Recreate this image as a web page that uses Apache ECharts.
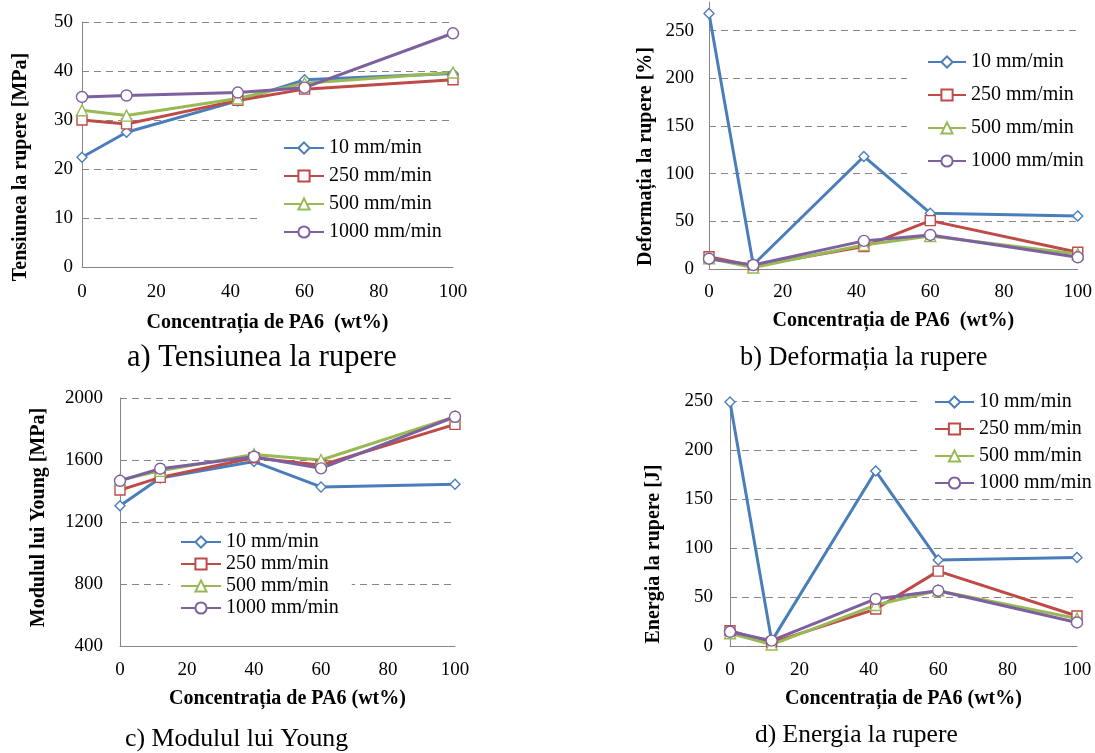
<!DOCTYPE html>
<html>
<head>
<meta charset="utf-8">
<script src="https://cdn.jsdelivr.net/npm/echarts@6/dist/echarts.min.js"></script>
<style>
  html, body { margin: 0; padding: 0; background: #fff; }
  #chart { width: 1095px; height: 753px; }
</style>
</head>
<body>
<div id="chart"></div>
<script>
// viteze de incercare (legenda)
const speeds = ['10 mm/min', '250 mm/min', '500 mm/min', '1000 mm/min'];

// concentratia de PA6 (wt%) pe fiecare grafic
const xA = [0, 12, 42, 60, 100];
const xB = [0, 12, 42, 60, 100];
const xC = [0, 12, 40, 60, 100];
const xD = [0, 12, 42, 60, 100];

// a) Tensiunea la rupere [MPa] - cate un rand pe viteza
const tensiune = [
  [22.4, 27.5, 33.9, 38.2, 39.5],
  [30.0, 29.2, 34.0, 36.3, 38.2],
  [32.0, 30.9, 34.4, 37.5, 39.7],
  [34.7, 35.0, 35.6, 36.6, 47.7]
];
// b) Deformatia la rupere [%]
const deformatie = [
  [268, 4.5, 118, 58.5, 55.7],
  [12.9, 3.2, 23.5, 50.7, 17.5],
  [11.2, 1.5, 25.2, 34.5, 15.7],
  [10.8, 4.2, 29.5, 35.7, 12.3]
];
// c) Modulul lui Young [MPa]
const modul = [
  [1305, 1484, 1590, 1426, 1443],
  [1406, 1488, 1615, 1566, 1830],
  [1471, 1530, 1636, 1600, 1880],
  [1466, 1544, 1621, 1546, 1879]
];
// d) Energia la rupere [J]
const energie = [
  [249, 5, 178.5, 87.7, 90.4],
  [15.6, 3.5, 37.7, 76.4, 30.6],
  [13, 1.5, 41.8, 56.5, 28],
  [14.5, 5.5, 48, 56.4, 24]
];

const colors = ['#4A7EBB', '#BE4B48', '#98B954', '#7D60A0'];
const symbols = ['diamond', 'rect', 'triangle', 'circle'];
const symbolSizes = [10, 10, 11, 11];

const serif = 'Liberation Serif, Times New Roman, serif';
const gridColor = '#868686';

const panels = [
  { x: xA, y: tensiune, grid: { left: 82, top: 22, width: 371, height: 245 },
    yMin: 0, yMax: 50, yInt: 10, yName: 'Tensiunea la rupere [MPa]', yGap: 51, yPad: [0, 45, 0, 0],
    xName: 'Concentrația de PA6  (wt%)', xGap: 46, xMargin: 16, yMargin: 9,
    legend: { left: 262, top: 128, itemWidth: 40, itemGap: 8, padding: [10, 15, 10, 21] } },
  { x: xB, y: deformatie, grid: { left: 709, top: 2, width: 371, height: 267 },
    yMin: 0, yMax: 280, yInt: 50, yName: 'Deformația la rupere [%]', yGap: 53, yPad: [0, 42, 0, 0],
    xName: 'Concentrația de PA6  (wt%)', xGap: 42, xMargin: 14, yMargin: 15,
    legend: { left: 907, top: 42, itemWidth: 38, itemGap: 13, padding: [10, 21, 10, 20] } },
  { x: xC, y: modul, grid: { left: 120, top: 398, width: 335, height: 248 },
    yMin: 400, yMax: 2000, yInt: 400, yName: 'Modulul lui Young [MPa]', yGap: 71, yPad: [0, 0, 0, 9],
    xName: 'Concentrația de PA6 (wt%)', xGap: 43, xMargin: 15, yMargin: 17,
    legend: { left: 170, top: 526, itemWidth: 40, itemGap: 2, padding: [6, 13, 6, 10] } },
  { x: xD, y: energie, grid: { left: 730, top: 401, width: 347, height: 245 },
    yMin: 0, yMax: 250, yInt: 50, yName: 'Energia la rupere [J]', yGap: 66, yPad: [0, 61, 0, 0],
    xName: 'Concentrația de PA6 (wt%)', xGap: 43, xMargin: 15, yMargin: 17,
    legend: { left: 922, top: 386, itemWidth: 39, itemGap: 7, padding: [6, 30, 4, 12] } }
];

const captions = [
  { text: 'a) Tensiunea la rupere', left: 127, top: 342, size: 30.5 },
  { text: 'b) Deformația la rupere', left: 740, top: 345, size: 26.3 },
  { text: 'c) Modulul lui Young', left: 125, top: 726, size: 25.8 },
  { text: 'd) Energia la rupere', left: 755, top: 722, size: 25.5 }
];

const option = {
  animation: false,
  backgroundColor: '#fff',
  title: captions.map(c => ({
    text: c.text, left: c.left, top: c.top, padding: 0,
    textStyle: { fontFamily: serif, fontWeight: 'normal', fontSize: c.size, color: '#000' }
  })),
  grid: panels.map(p => p.grid),
  legend: panels.map(p => Object.assign({
    orient: 'vertical',
    data: speeds,
    itemHeight: 14,
    backgroundColor: '#fff',
    textStyle: { fontFamily: serif, fontSize: 20, color: '#000' },
    selectedMode: false
  }, p.legend)),
  xAxis: panels.map((p, i) => ({
    type: 'value', gridIndex: i, min: 0, max: 100, interval: 20,
    name: p.xName, nameLocation: 'middle', nameGap: p.xGap,
    nameTextStyle: { fontFamily: serif, fontWeight: 'bold', fontSize: 20, color: '#000' },
    axisLine: { show: true, lineStyle: { color: gridColor, width: 1 } },
    axisTick: { show: false },
    axisLabel: { fontFamily: serif, fontSize: 19, color: '#000', margin: p.xMargin },
    splitLine: { show: false }
  })),
  yAxis: panels.map((p, i) => ({
    type: 'value', gridIndex: i, min: p.yMin, max: p.yMax, interval: p.yInt,
    name: p.yName, nameLocation: 'middle', nameGap: p.yGap,
    nameTextStyle: { fontFamily: serif, fontWeight: 'bold', fontSize: 20, color: '#000', padding: p.yPad },
    axisLine: { show: true, lineStyle: { color: gridColor, width: 1 } },
    axisTick: { show: false },
    axisLabel: { fontFamily: serif, fontSize: 19, color: '#000', margin: p.yMargin,
      formatter: v => String(v),
      showMaxLabel: p.yMax % p.yInt === 0 },
    splitLine: { show: true, showMinLine: false, showMaxLine: p.yMax % p.yInt === 0,
      lineStyle: { color: gridColor, type: [7, 5], width: 1 } }
  })),
  series: []
};

panels.forEach((p, gi) => {
  speeds.forEach((name, si) => {
    option.series.push({
      name: name,
      type: 'line',
      xAxisIndex: gi,
      yAxisIndex: gi,
      data: p.x.map((xv, k) => [xv, p.y[si][k]]),
      color: colors[si],
      symbol: symbols[si],
      symbolSize: symbolSizes[si],
      showSymbol: true,
      lineStyle: { color: colors[si], width: 3 },
      itemStyle: { color: '#fff', borderColor: colors[si], borderWidth: 1.4 },
      emphasis: { disabled: true }
    });
  });
});

const chart = echarts.init(document.getElementById('chart'));
chart.setOption(option);
</script>
</body>
</html>
